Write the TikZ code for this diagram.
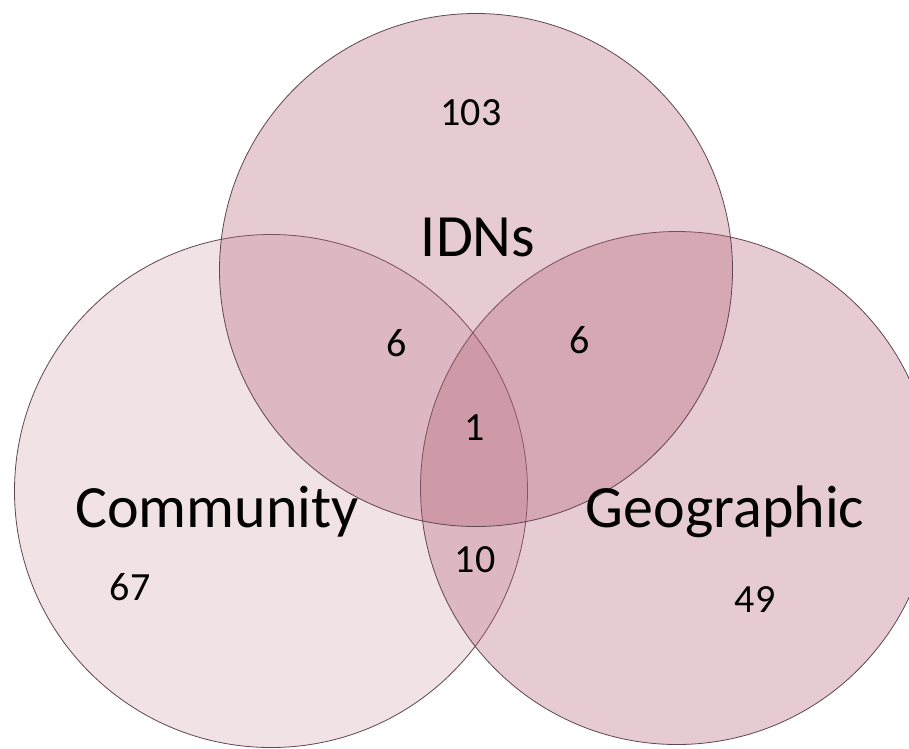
\documentclass[tikz,border=0pt]{standalone}
\usepackage{fontspec}
\setmainfont{Carlito}
\definecolor{vennpink}{RGB}{180,95,118}
\definecolor{vennline}{RGB}{95,70,80}
\tikzset{
  vset/.style={circle, inner sep=0pt, minimum size=513pt, draw=vennline, line width=0.8pt, fill=vennpink},
  biglabel/.style={inner sep=0pt, text=black, font=\fontsize{60}{70}\selectfont},
  numlabel/.style={inner sep=0pt, text=black, font=\fontsize{40}{48}\selectfont},
}
\begin{document}
\begin{tikzpicture}[x=1pt,y=-1pt]
\useasboundingbox (0,0) rectangle (909,748);
\clip (0,0) rectangle (909,748);
\fill[white] (0,0) rectangle (909,748);
\node[vset, fill opacity=0.18] (comm) at (271,491) {};
\node[vset, fill opacity=0.32] (geo) at (677,488) {};
\node[vset, fill opacity=0.32] (idn) at (476,270) {};
\node[biglabel] (tidn) at (478,237) {IDNs};
\node[biglabel] (tcomm) at (217,512) {Community};
\node[biglabel] (tgeo) at (725,512) {Geographic};
\node[numlabel] (n103) at (471,113) {103};
\node[numlabel] (nic) at (397,343) {6};
\node[numlabel] (nig) at (580,340) {6};
\node[numlabel] (nall) at (475,428) {1};
\node[numlabel] (ncg) at (475,560) {10};
\node[numlabel] (nc) at (130,587) {67};
\node[numlabel] (ng) at (755,600) {49};
\end{tikzpicture}
\end{document}
